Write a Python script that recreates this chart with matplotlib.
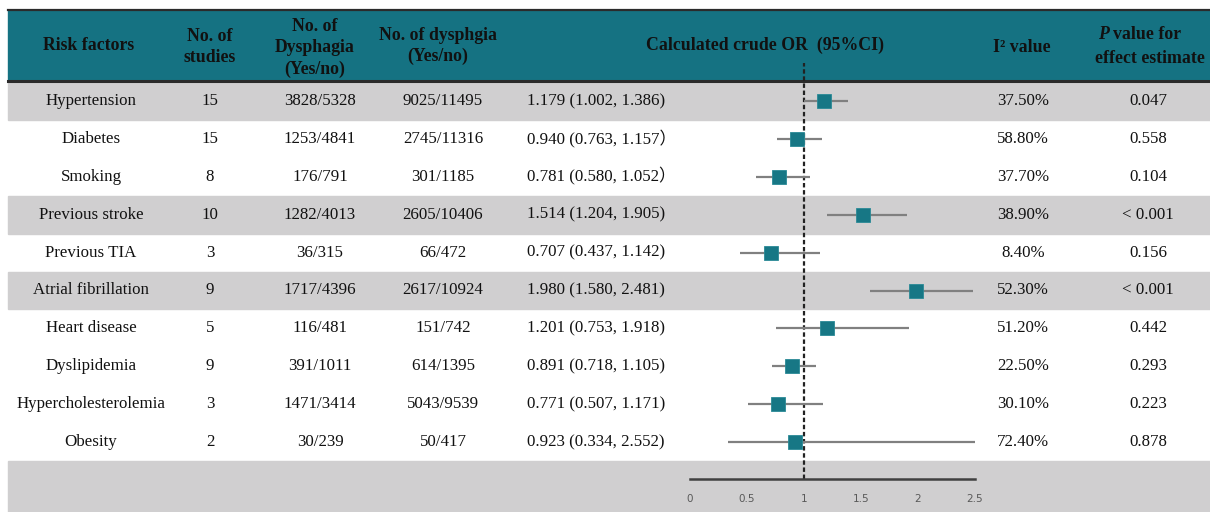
import matplotlib
matplotlib.use('Agg')
import matplotlib.pyplot as plt
from matplotlib.patches import Rectangle

'''
Forest-plot table of crude ORs for dysphagia risk factors.
'''

factors = ['Hypertension', 'Diabetes', 'Smoking', 'Previous stroke', 'Previous TIA',
           'Atrial fibrillation', 'Heart disease', 'Dyslipidemia',
           'Hypercholesterolemia', 'Obesity']
n_studies = [15, 15, 8, 10, 3, 9, 5, 9, 3, 2]
dysphagia = ['3828/5328', '1253/4841', '176/791', '1282/4013', '36/315',
             '1717/4396', '116/481', '391/1011', '1471/3414', '30/239']
no_dysphagia = ['9025/11495', '2745/11316', '301/1185', '2605/10406', '66/472',
                '2617/10924', '151/742', '614/1395', '5043/9539', '50/417']
odds = [1.179, 0.940, 0.781, 1.514, 0.707, 1.980, 1.201, 0.891, 0.771, 0.923]
ci_low = [1.002, 0.763, 0.580, 1.204, 0.437, 1.580, 0.753, 0.718, 0.507, 0.334]
ci_high = [1.386, 1.157, 1.052, 1.905, 1.142, 2.481, 1.918, 1.105, 1.171, 2.552]
close_paren = [')', '\uff09', '\uff09', ')', ')', ')', ')', ')', ')', ')']
i2 = ['37.50%', '58.80%', '37.70%', '38.90%', '8.40%', '52.30%', '51.20%',
      '22.50%', '30.10%', '72.40%']
p_values = ['0.047', '0.558', '0.104', '< 0.001', '0.156', '< 0.001', '0.442',
            '0.293', '0.223', '0.878']
grey_rows = [0, 3, 5]
x_ticks = [0, 0.5, 1, 1.5, 2, 2.5]
x_ticklabels = ['0', '0.5', '1', '1.5', '2', '2.5']

TEAL = '#157282'
GREY = '#d0cfd0'
MARK = '#177785'
serif = ['Liberation Serif', 'Noto Sans CJK SC']

W, H = 1210, 512
row_h = 37.9
row0 = 101.0  # pixel centre of first row


def prow(py):
    # pixel y -> row units
    return (py - row0) / row_h


fig = plt.figure(figsize=(W / 100, H / 100), dpi=100)
fig.patch.set_facecolor('white')

# background / table axes: x in pixels, y in row units
ax = fig.add_axes([0, 0, 1, 1])
ax.set_xlim(0, W)
ax.set_ylim(prow(H), prow(0))
ax.axis('off')

# header band
ax.add_patch(Rectangle((8, prow(10)), W - 8, prow(81) - prow(10), color=TEAL, zorder=0))
ax.plot([8, W], [prow(10), prow(10)], color='#2b2b2b', lw=1.6, zorder=1)
ax.plot([8, W], [prow(81), prow(81)], color='#2b2b2b', lw=2.2, zorder=3)

# striped rows and bottom band
for i in grey_rows:
    ax.add_patch(Rectangle((8, i - 0.5), W - 8, 1, color=GREY, zorder=0))
ax.add_patch(Rectangle((8, len(factors) - 0.5), W - 8, prow(H) - len(factors) + 0.5,
                       color=GREY, zorder=0))

# header text
hfs = 12.8
hkw = dict(family=serif, weight='bold', fontsize=hfs, ha='center', va='center',
           color='#111111', linespacing=1.3, zorder=4)
ax.text(89, prow(45), 'Risk factors', **hkw)
ax.text(210, prow(47), 'No. of\nstudies', **hkw)
ax.text(315, prow(48), 'No. of\nDysphagia\n(Yes/no)', **hkw)
ax.text(438, prow(46), 'No. of dysphgia\n(Yes/no)', **hkw)
ax.text(765, prow(45), 'Calculated crude OR  (95%CI)', **hkw)
ax.text(1022, prow(47), 'I\u00b2 value', **hkw)
ax.text(1098, prow(34), 'P', family=serif, weight='bold', style='italic', fontsize=hfs,
        ha='left', va='center', color='#111111', zorder=4)
ax.text(1113, prow(34), 'value for', family=serif, weight='bold', fontsize=hfs,
        ha='left', va='center', color='#111111', zorder=4)
ax.text(1150, prow(58), 'effect estimate', **hkw)

# body text
bkw = dict(family=serif, fontsize=12.2, va='center', color='#111111', zorder=4)
for i in range(len(factors)):
    ax.text(91, i, factors[i], ha='center', **bkw)
    ax.text(210, i, str(n_studies[i]), ha='center', **bkw)
    ax.text(320, i, dysphagia[i], ha='center', **bkw)
    ax.text(443, i, no_dysphagia[i], ha='center', **bkw)
    label = '%.3f (%.3f, %.3f%s' % (odds[i], ci_low[i], ci_high[i], close_paren[i])
    ax.text(527, i, label, ha='left', **bkw)
    ax.text(1023, i, i2[i], ha='center', **bkw)
    ax.text(1148, i, p_values[i], ha='center', **bkw)

# forest axes: spans pixel x 690..975, pixel y 63..479
fx0, fx1, fy0, fy1 = 690, 975, 63, 479
fax = fig.add_axes([fx0 / W, 1 - fy1 / H, (fx1 - fx0) / W, (fy1 - fy0) / H])
fax.patch.set_alpha(0)
fax.set_xlim(0, 2.5)
fax.set_ylim(prow(fy1), prow(fy0))
for s in ['top', 'left', 'right']:
    fax.spines[s].set_visible(False)
fax.spines['bottom'].set_color('#404040')
fax.spines['bottom'].set_linewidth(1.8)
fax.set_yticks([])
fax.set_xticks(x_ticks)
fax.set_xticklabels(x_ticklabels, fontsize=7.5, color='#595959', family='DejaVu Sans')
fax.tick_params(axis='x', length=0, pad=11)

fax.axvline(1, color='#222222', lw=1.6, ls=(0, (2, 1.2)), zorder=2)
for i in range(len(factors)):
    fax.plot([ci_low[i], ci_high[i]], [i, i], color='#808080', lw=1.6, zorder=3,
             solid_capstyle='butt')
    fax.plot(odds[i], i, 's', color=MARK, ms=10, mec='#2a8a96', mew=0.6, zorder=4)

fig.savefig('out.png', dpi=100)
